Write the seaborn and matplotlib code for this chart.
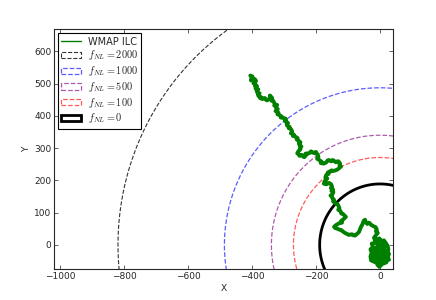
import numpy as np
import pandas as pd
import seaborn as sns
import matplotlib.pyplot as plt
from matplotlib.patches import Patch
from matplotlib.lines import Line2D

# WMAP ILC path
path_x = [-406, -399, -403, -397, -404, -392, -388, -395, -396, -390, -391, -385, -390, -389, -381,
          -386, -384, -377, -382, -380, -372, -375, -368, -364, -360, -357, -354, -349, -347, -343,
          -345, -338, -340, -336, -333, -329, -331, -322, -326, -320, -324, -327, -318, -321, -314,
          -308, -311, -300, -294, -298, -296, -288, -292, -291, -283, -286, -279, -275, -279, -270,
          -273, -266, -258, -261, -255, -249, -254, -252, -246, -251, -249, -255, -259, -254, -252,
          -244, -241, -237, -230, -233, -222, -216, -212, -208, -200, -203, -195, -193, -197, -190,
          -183, -186, -176, -168, -164, -160, -153, -149, -146, -138, -134, -130, -125, -127, -122,
          -129, -133, -137, -147, -151, -157, -164, -161, -168, -171, -165, -168, -174, -170, -176,
          -168, -160, -156, -153, -150, -154, -147, -152, -146, -149, -155, -151, -150, -144, -147,
          -138, -133, -130, -127, -131, -124, -121, -116, -113, -107, -111, -114, -122, -119, -129,
          -133, -137, -144, -140, -136, -126, -121, -117, -108, -103, -98, -88, -84, -78, -70,
          -66, -64, -60, -57, -55, -51, -47, -45, -40, -37, -33, -28, -24, -21, -14,
          -10, -13, -7, -13, -19, -15, -8,
          -3, -9, -1, 6, 11, 16, 9, 14, 4, -4, -12, -18, -10, -2, 6,
          16, 22, 14, 20, 10, 0, -8, -16, -24, -20, -26, -16, -8, 2, 12,
          20, 10, 0, -8, -2, 4, -10, -20, -28, -30, -26, -30, -22, -26, -16,
          -12, -2, 4, 12, 18, 24, 26, 22, 28, 24, 28, 20, 14, 6, -2,
          -10, -4, 8, 16, 8, 0, -8, -14, -6, 2, 8, 0]
path_y = [525, 522, 516, 513, 510, 514, 508, 506, 501, 499, 494, 492, 488, 484, 482,
          477, 472, 470, 466, 461, 458, 455, 452, 455, 455, 450, 448, 451, 452, 460,
          463, 456, 447, 449, 444, 437, 432, 434, 426, 421, 418, 415, 410, 405, 402,
          398, 395, 393, 390, 386, 383, 378, 375, 370, 366, 362, 359, 352, 346, 342,
          338, 336, 331, 327, 323, 318, 314, 310, 305, 300, 296, 291, 284, 280, 276,
          279, 274, 272, 280, 283, 284, 290, 286, 286, 288, 284, 281, 272, 267, 263,
          258, 254, 252, 256, 262, 263, 259, 263, 262, 256, 259, 259, 252, 246, 243,
          237, 234, 232, 229, 231, 228, 224, 220, 217, 210, 206, 203, 197, 193, 190,
          188, 192, 190, 188, 180, 176, 172, 167, 164, 157, 153, 150, 146, 140, 135,
          128, 126, 121, 113, 109, 105, 97, 96, 93, 87, 83, 80, 74, 69, 67,
          64, 62, 56, 52, 51, 47, 46, 42, 36, 34, 31, 33, 30, 29, 36,
          40, 45, 55, 60, 64, 75, 78, 71, 65, 69, 68, 62, 60, 58, 55,
          47, 42, 37, 30, 22, 14, 8,
          2, -4, -8, -2, 6, -3, -10, -16, -18, -14, -10, -16, -22, -24, -28,
          -24, -30, -34, -40, -42, -36, -30, -26, -30, -38, -44, -46, -42, -48, -50,
          -54, -58, -56, -62, -68, -62, -56, -52, -48, -36, -24, -14, -6, 4, 6,
          16, 20, 12, 14, 6, -4, -14, -20, -28, -38, -46, -48, -40, -34, -30,
          -36, -44, -44, -30, -22, -16, -20, -12, -6, -4, 0, 4]

# contour radii for each f_NL
fnl_labels = ["2000", "1000", "500", "100", "0"]
fnl_radii = [820, 487, 340, 271, 189]
fnl_colors = ["black", "#3333ff", "#993399", "#ff3333", "black"]
fnl_styles = ["--", "--", "--", "--", "-"]
fnl_widths = [0.8, 0.9, 0.9, 0.9, 2.0]
fnl_alpha = [0.8, 0.8, 0.8, 0.8, 1.0]

sns.set_style("ticks")
plt.rcParams["mathtext.fontset"] = "cm"
plt.rcParams["font.family"] = ["DejaVu Sans"]

fig = plt.figure(figsize=(4.36, 3.0), dpi=100)
ax = fig.add_axes([0.124, 0.103, 0.777, 0.799])

t = np.linspace(0, 2 * np.pi, 400)
for lab, r, c, ls, lw, a in zip(fnl_labels, fnl_radii, fnl_colors, fnl_styles, fnl_widths, fnl_alpha):
    ax.plot(r * np.cos(t), r * np.sin(t), color=c, ls=ls, lw=lw, alpha=a)

df = pd.DataFrame({"x": path_x, "y": path_y})
sns.lineplot(data=df, x="x", y="y", sort=False, estimator=None, color="green", lw=2.8, ax=ax)

ax.set_xlim(-1020, 40)
ax.set_ylim(-75, 668)
ax.set_xticks([-1000, -800, -600, -400, -200, 0])
ax.set_yticks([0, 100, 200, 300, 400, 500, 600])
ax.tick_params(direction="in", top=True, right=True, labelsize=6.5, length=3, width=0.5, pad=2)
for s in ax.spines.values():
    s.set_linewidth(0.8)
ax.set_xlabel("X", fontsize=6.5, labelpad=2)
ax.set_ylabel("Y", fontsize=6.5, labelpad=2)

handles = [Line2D([0], [0], color="green", lw=1)]
names = ["WMAP ILC"]
for lab, c, ls, lw, a in zip(fnl_labels, fnl_colors, fnl_styles, fnl_widths, fnl_alpha):
    handles.append(Patch(facecolor="none", edgecolor=c, linestyle=ls, lw=lw, alpha=a))
    names.append(r"$f_{NL}=%s$" % lab)
leg = ax.legend(handles, names, loc="upper left", fontsize=7, fancybox=False,
                edgecolor="black", framealpha=1, borderaxespad=0.4, handlelength=2.0,
                handleheight=0.6, labelspacing=0.18, borderpad=0.35, handletextpad=0.7)
for txt in leg.get_texts()[1:]:
    txt.set_fontsize(7.4)
leg.get_frame().set_linewidth(0.8)

fig.savefig("out.png", dpi=100)
